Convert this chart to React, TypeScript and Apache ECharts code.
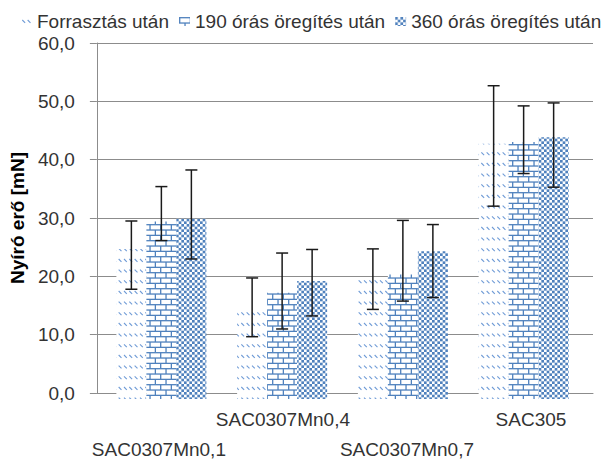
import React, { useEffect, useRef } from "react";
import * as echarts from "echarts";

const categories = ["SAC0307Mn0,1", "SAC0307Mn0,4", "SAC0307Mn0,7", "SAC305"];
const seriesNames = ["Forrasztás után", "190 órás öregítés után", "360 órás öregítés után"];
const meansSolder = [25.3, 15.4, 20.2, 43.0];
const means190 = [29.9, 17.9, 21.0, 43.3];
const means360 = [30.4, 19.9, 24.9, 44.1];
const hiSolder = [30.0, 20.4, 25.3, 52.8];
const loSolder = [18.5, 10.5, 15.1, 32.5];
const hi190 = [35.8, 24.6, 30.1, 49.4];
const lo190 = [26.7, 11.8, 16.5, 38.0];
const hi360 = [38.6, 25.2, 29.4, 49.9];
const lo360 = [23.6, 14.0, 17.1, 35.7];
const yTicks = [0, 10, 20, 30, 40, 50, 60];

const FONT = "'Liberation Sans', Arial, sans-serif";
const BLUE = "#4f81bd";
const TEXT = "#333333";

function makeTile(draw: (ctx: CanvasRenderingContext2D) => void) {
  const c = document.createElement("canvas");
  c.width = 32;
  c.height = 32;
  const ctx = c.getContext("2d")!;
  ctx.fillStyle = "#ffffff";
  ctx.fillRect(0, 0, 32, 32);
  draw(ctx);
  return c;
}

function dashTile() {
  return makeTile((ctx) => {
    ctx.strokeStyle = "#6f9bd6";
    ctx.lineWidth = 1.1;
    const p = 32 / 3;
    for (let r = 0; r < 3; r++) {
      const y0 = r * p + 3;
      for (let x = -4; x < 36; x += 32 / 6) {
        ctx.beginPath();
        ctx.moveTo(x, y0);
        ctx.lineTo(x + 2.8, y0 + 2.8);
        ctx.stroke();
      }
    }
  });
}

function brickTile() {
  return makeTile((ctx) => {
    ctx.strokeStyle = BLUE;
    ctx.lineWidth = 1.3;
    const h = 32 / 6;
    const w = 32 / 3;
    for (let k = 0; k < 6; k++) {
      const y = k * h + 0.7;
      ctx.beginPath();
      ctx.moveTo(0, y);
      ctx.lineTo(32, y);
      ctx.stroke();
      const off = k % 2 ? w / 2 : 0;
      for (let m = -1; m < 4; m++) {
        const x = off + m * w + 0.7;
        ctx.beginPath();
        ctx.moveTo(x, y);
        ctx.lineTo(x, y + h);
        ctx.stroke();
      }
    }
  });
}

function checkTile() {
  return makeTile((ctx) => {
    ctx.fillStyle = BLUE;
    const s = 32 / 12;
    for (let i = 0; i < 12; i++) {
      for (let j = 0; j < 12; j++) {
        if ((i + j) % 2 === 0) ctx.fillRect(i * s, j * s, s, s);
      }
    }
  });
}

export default function App() {
  const ref = useRef<HTMLDivElement>(null);

  useEffect(() => {
    if (!ref.current) return;
    const chart = echarts.init(ref.current, undefined, { renderer: "svg" });

    const patterns = [dashTile(), brickTile(), checkTile()];
    const means = [meansSolder, means190, means360];
    const highs = [hiSolder, hi190, hi360];
    const lows = [loSolder, lo190, lo360];
    const barW = 30;

    const barSeries = seriesNames.map((name, i) => ({
      name,
      type: "bar",
      xAxisIndex: 1,
      yAxisIndex: 1,
      barWidth: barW,
      barGap: "0%",
      data: means[i],
      itemStyle: { color: { image: patterns[i], repeat: "repeat" } },
      z: 2,
    }));

    const errSeries = seriesNames.map((_, i) => ({
      type: "custom",
      xAxisIndex: 1,
      yAxisIndex: 1,
      z: 5,
      data: categories.map((_, c) => [c, highs[i][c], lows[i][c]]),
      encode: { x: 0, y: [1, 2] },
      renderItem: (params: any, api: any) => {
        const cat = api.value(0);
        const top = api.coord([cat, api.value(1)]);
        const bot = api.coord([cat, api.value(2)]);
        const x = top[0] + (i - 1) * barW;
        const cap = 6;
        const style = { stroke: "#1a1a1a", lineWidth: 1.5 };
        return {
          type: "group",
          children: [
            { type: "line", shape: { x1: x, y1: top[1], x2: x, y2: bot[1] }, style },
            { type: "line", shape: { x1: x - cap, y1: top[1], x2: x + cap, y2: top[1] }, style },
            { type: "line", shape: { x1: x - cap, y1: bot[1], x2: x + cap, y2: bot[1] }, style },
          ],
        };
      },
    }));

    const gray = "#8c8c8c";

    chart.setOption({
      animation: false,
      backgroundColor: "#ffffff",
      textStyle: { fontFamily: FONT },
      legend: {
        data: seriesNames,
        top: 7,
        left: 16,
        width: 599,
        itemWidth: 11,
        itemHeight: 9,
        itemGap: 10,
        icon: "rect",
        textStyle: { fontFamily: FONT, fontSize: 19, color: TEXT },
      },
      grid: [
        { left: 94, right: 22, top: 43, bottom: 65 },
        { left: 101, width: 483, top: 43, bottom: 65 },
      ],
      xAxis: [
        {
          type: "category",
          gridIndex: 0,
          data: categories,
          axisLine: { show: true, lineStyle: { color: gray, width: 1 } },
          axisTick: { show: false },
          axisLabel: {
            interval: 0,
            margin: 11,
            fontFamily: FONT,
            fontSize: 19,
            color: TEXT,
            lineHeight: 30,
            formatter: (v: string, idx: number) => (idx % 2 === 0 ? "\n" + v : v),
          },
        },
        {
          type: "category",
          gridIndex: 1,
          data: categories,
          show: false,
        },
      ],
      yAxis: [
        {
          type: "value",
          gridIndex: 0,
          min: yTicks[0],
          max: yTicks[yTicks.length - 1],
          interval: 10,
          name: "Nyíró erő [mN]",
          nameLocation: "middle",
          nameGap: 62,
          nameTextStyle: { fontFamily: FONT, fontSize: 19, fontWeight: "bold", color: "#000000" },
          axisLine: { show: true, lineStyle: { color: gray, width: 1 } },
          axisTick: { show: true, length: 7, lineStyle: { color: gray } },
          splitLine: { show: true, lineStyle: { color: gray, width: 1 } },
          axisLabel: {
            margin: 22,
            fontFamily: FONT,
            fontSize: 19,
            color: TEXT,
            formatter: (v: number) => v.toFixed(1).replace(".", ","),
          },
        },
        {
          type: "value",
          gridIndex: 1,
          min: yTicks[0],
          max: yTicks[yTicks.length - 1],
          interval: 10,
          show: false,
          splitLine: { show: false },
        },
      ],
      series: [...barSeries, ...errSeries],
    });

    return () => chart.dispose();
  }, []);

  return (
    <div
      ref={ref}
      style={{ position: "fixed", left: 0, top: 0, width: 615, height: 464, background: "#fff" }}
    />
  );
}
